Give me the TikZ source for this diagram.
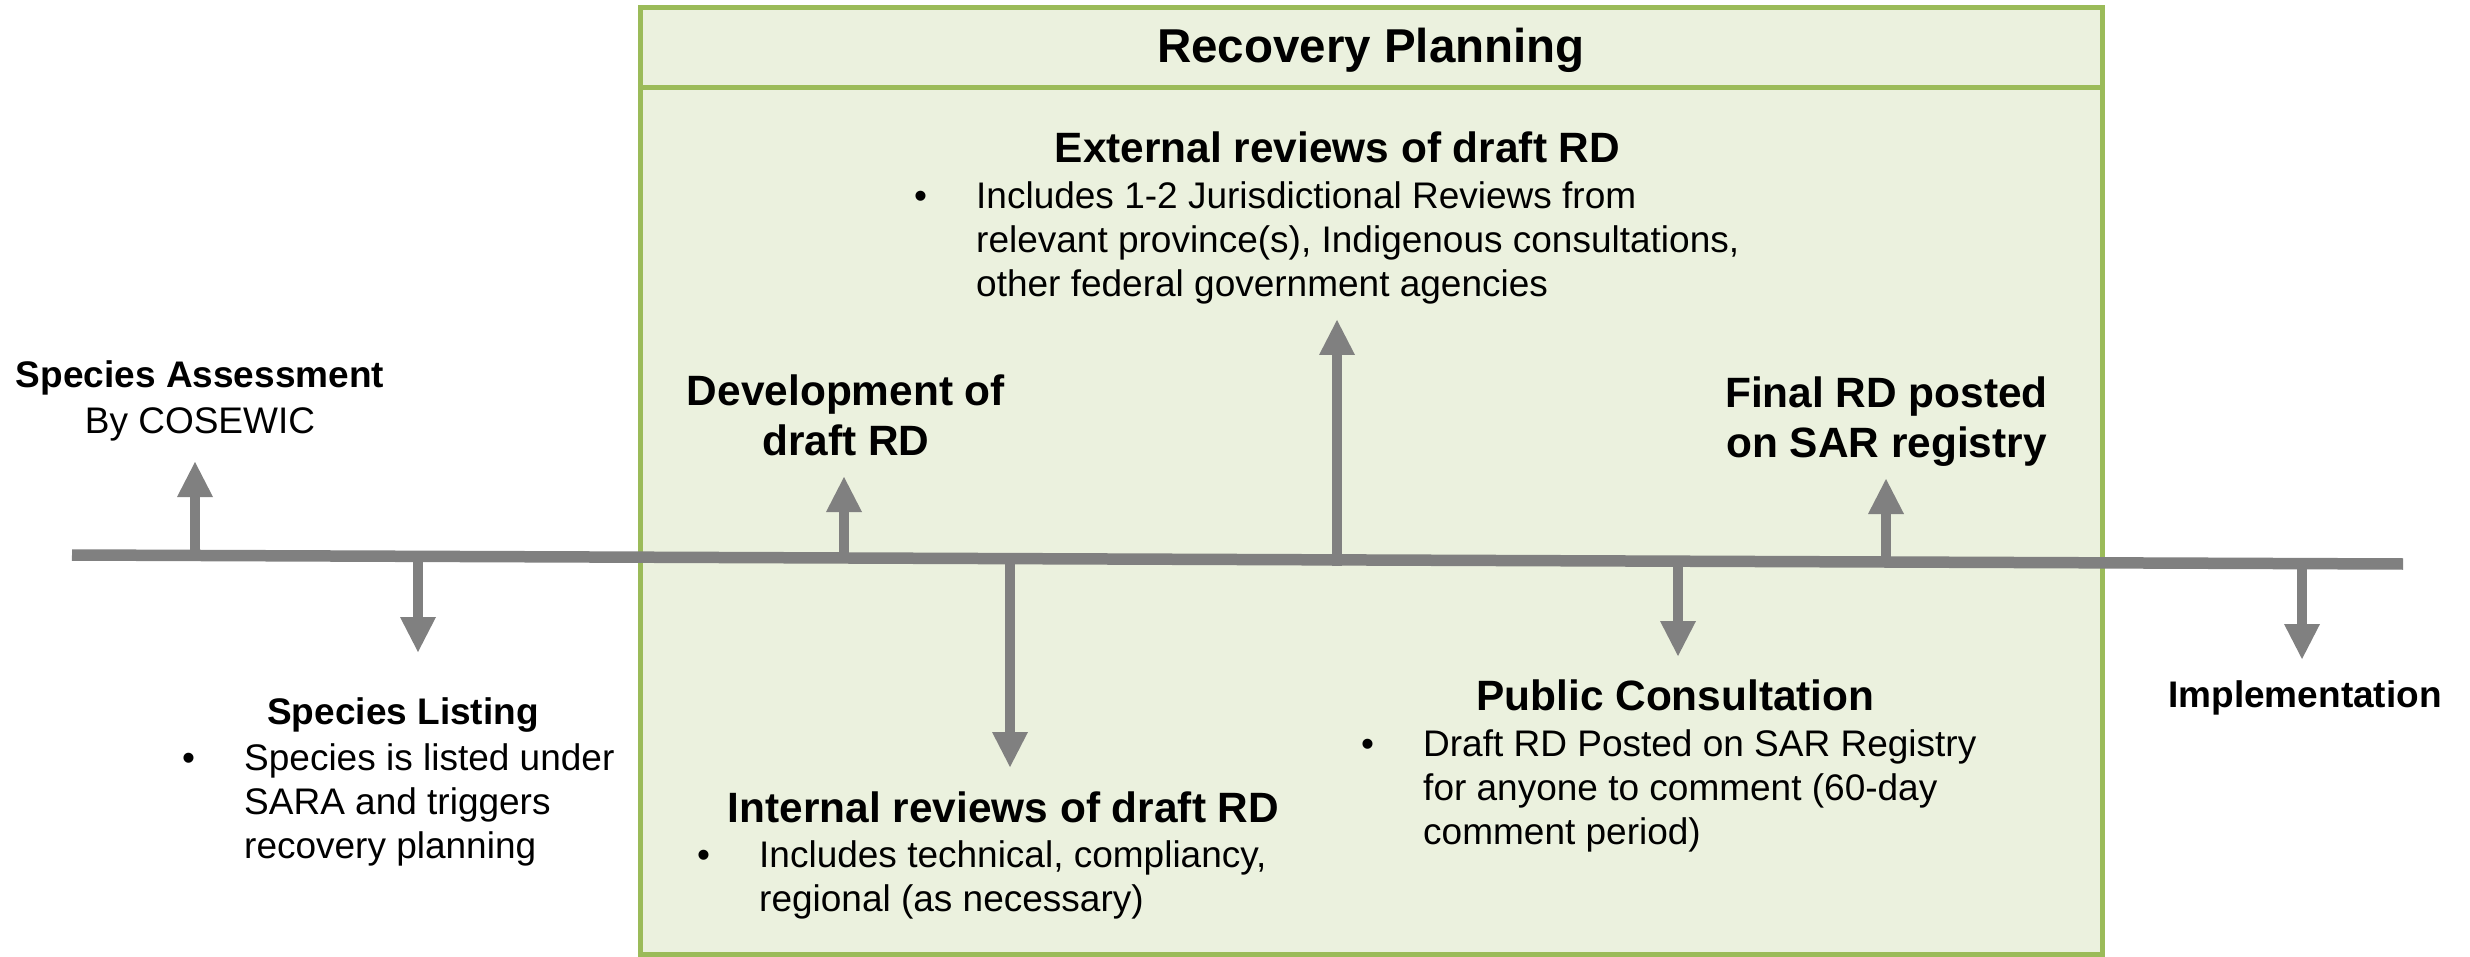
\documentclass[tikz,border=0pt]{standalone}
\usepackage{fontspec}
\setmainfont{Liberation Sans}
\usetikzlibrary{arrows.meta}
\definecolor{boxgreen}{HTML}{9BBB59}
\definecolor{boxfill}{HTML}{EBF1DE}
\definecolor{linegray}{HTML}{808080}
\newcommand{\mytitlefont}{\bfseries\fontsize{47.5}{56}\selectfont}
\newcommand{\myheadfont}{\bfseries\fontsize{42.4}{50}\selectfont}
\newcommand{\myoutfont}{\bfseries\fontsize{37}{46}\selectfont}
\newcommand{\mybodyfont}{\fontsize{37}{44}\selectfont}
\tikzset{
  lbl/.style={anchor=base, inner sep=0pt, text=black},
  bul/.style={anchor=base west, inner sep=0pt, text=black},
  tick/.style={draw=linegray, line width=10.5pt,
    -{Triangle[width=36pt,length=35pt,line width=0pt]}},
  timeline/.style={draw=linegray, line width=11.5pt},
  frame/.style={draw=boxgreen, fill=boxfill, line width=5pt}
}
\newcommand{\bulletlist}[1]{\mybodyfont\makebox[62pt][l]{•}\parbox[t]{1100pt}{\raggedright #1}}
\begin{document}
\begin{tikzpicture}[x=1pt,y=-1pt]
\useasboundingbox (0,0) rectangle (2470,957);
% frame
\draw[frame] (640.5,8) rectangle (2102.5,954.5);
\draw[frame] (640.5,8) rectangle (2102.5,88);
\node[lbl] (title) at (1371,63) {\mytitlefont Recovery Planning};
% timeline
\coordinate (tl) at (72,555);
\coordinate (tr) at (2403,564);
\draw[timeline] (tl) -- (tr);
% arrows
\coordinate (sa0) at (195,556);   \coordinate (sa1) at (195,462);
\coordinate (sl0) at (418,556);   \coordinate (sl1) at (418,652);
\coordinate (dv0) at (844,558);   \coordinate (dv1) at (844,477);
\coordinate (ir0) at (1010,558);  \coordinate (ir1) at (1010,767);
\coordinate (er0) at (1337,566);  \coordinate (er1) at (1337,320);
\coordinate (pc0) at (1678,561);  \coordinate (pc1) at (1678,656);
\coordinate (fr0) at (1886,562);  \coordinate (fr1) at (1886,479);
\coordinate (im0) at (2302,563);  \coordinate (im1) at (2302,659);
\draw[tick] (sa0) -- (sa1);
\draw[tick] (sl0) -- (sl1);
\draw[tick] (dv0) -- (dv1);
\draw[tick] (ir0) -- (ir1);
\draw[tick] (er0) -- (er1);
\draw[tick] (pc0) -- (pc1);
\draw[tick] (fr0) -- (fr1);
\draw[tick] (im0) -- (im1);
% labels
\node[lbl] (sahead) at (200,388) {\fontsize{37}{46}\selectfont\parbox[t]{500pt}{\centering\textbf{Species Assessment}\\By COSEWIC}};
\node[lbl] (slhead) at (403,724) {\myoutfont Species Listing};
\node[bul] (slbody) at (182,770) {\bulletlist{Species is listed under\\SARA and triggers\\recovery planning}};
\node[lbl] (dvhead) at (846,405) {\myheadfont\parbox[t]{500pt}{\centering Development of\\draft RD}};
\node[lbl] (irhead) at (1003.5,822) {\myheadfont Internal reviews of draft RD};
\node[bul] (irbody) at (697,867) {\bulletlist{Includes technical, compliancy,\\regional (as necessary)}};
\node[lbl] (erhead) at (1337.5,163) {\myheadfont External reviews of draft RD};
\node[bul] (erbody) at (914,209) {\bulletlist{Includes 1-2 Jurisdictional Reviews from\\relevant province(s), Indigenous consultations,\\other federal government agencies}};
\node[lbl] (pchead) at (1675.5,710) {\myheadfont Public Consultation};
\node[bul] (pcbody) at (1361,756) {\bulletlist{Draft RD Posted on SAR Registry\\for anyone to comment (60-day\\comment period)}};
\node[lbl] (frhead) at (1886.5,407) {\myheadfont\parbox[t]{500pt}{\centering Final RD posted\\on SAR registry}};
\node[lbl] (imhead) at (2305,707) {\myoutfont Implementation};
\end{tikzpicture}
\end{document}
